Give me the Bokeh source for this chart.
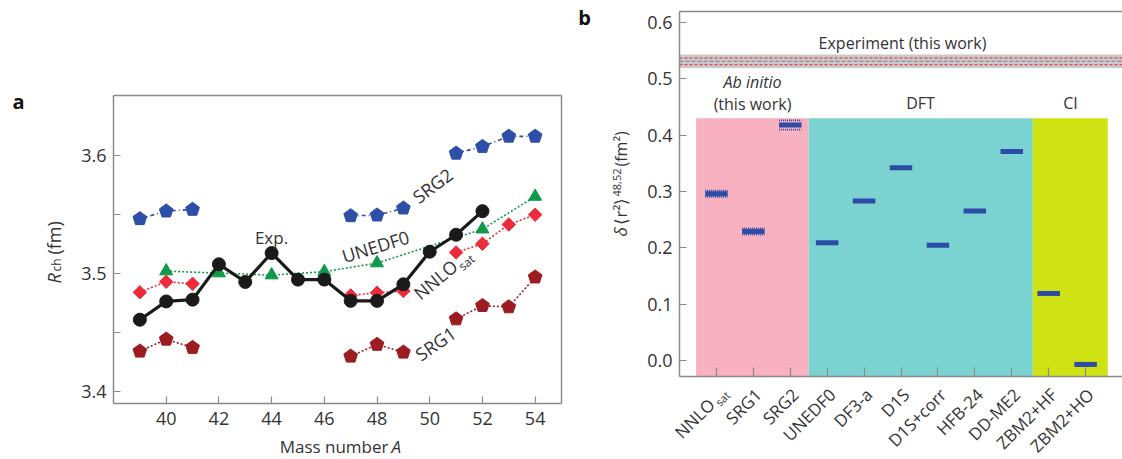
import math
from bokeh.plotting import figure
from bokeh.layouts import row
from bokeh.models import (Label, LinearAxis, FixedTicker, Range1d,
                          NumeralTickFormatter, CustomJSTickFormatter)
from bokeh.embed import file_html
from bokeh.resources import INLINE

nan = float("nan")

# ---------------- data: panel a ----------------
mass_A = [39, 40, 41, 42, 43, 44, 45, 46, 47, 48, 49, 50, 51, 52, 53, 54]
exp_A = [39, 40, 41, 42, 43, 44, 45, 46, 47, 48, 49, 50, 51, 52]
exp_rch = [3.461, 3.4765, 3.478, 3.508, 3.493, 3.5175, 3.495, 3.495, 3.477, 3.477,
           3.491, 3.5186, 3.533, 3.553]
srg2_rch = [3.5465, 3.553, 3.5544, nan, nan, nan, nan, nan, 3.549, 3.5496, 3.5555, nan,
            3.602, 3.6077, 3.6164, 3.6164]
srg1_rch = [3.4343, 3.4444, 3.4374, nan, nan, nan, nan, nan, 3.430, 3.440, 3.4334, nan,
            3.4616, 3.4729, 3.4718, 3.4971]
nnlo_rch = [3.4842, 3.4932, 3.4915, nan, nan, nan, nan, nan, 3.4816, 3.4839, 3.4853, nan,
            3.518, 3.5254, 3.5417, 3.550]
unedf_A = [40, 42, 44, 46, 48, 52, 54]
unedf_rch = [3.5022, 3.5005, 3.4988, 3.5017, 3.509, 3.5377, 3.5654]
a_xticks = [40, 42, 44, 46, 48, 50, 52, 54]
a_yticks = [3.4, 3.5, 3.6]
a_yminor = [3.45, 3.55]

# ---------------- data: panel b ----------------
methods = ["NNLO_sat", "SRG1", "SRG2", "UNEDF0", "DF3-a", "D1S", "D1S+corr", "HFB-24",
           "DD-ME2", "ZBM2+HF", "ZBM2+HO"]
dr2 = [0.296, 0.229, 0.418, 0.209, 0.283, 0.342, 0.2045, 0.2655, 0.371, 0.119, -0.007]
abinitio_err = [0.0053, 0.0053, 0.0083]
exp_dr2 = 0.531
exp_err_stat = 0.006
exp_err_tot = 0.012
group_names = ["Ab initio", "DFT", "CI"]
group_left = [-0.55, 2.5, 8.57]
group_right = [2.5, 8.57, 10.6]
group_top = 0.43
group_colors = ["#F7B1C1", "#7AD3D1", "#CFE314"]
b_yticks = [0.0, 0.1, 0.2, 0.3, 0.4, 0.5, 0.6]

FONT = "Open Sans"
TXT = "#333333"
AXC = "#8a8a8a"
BLUE = "#2D4FA8"
DRED = "#9C1C22"
RED = "#EC2C3B"
GREEN = "#10994A"
BAR = "#2C4CA5"

# ---------------- geometry (box of each panel inside its canvas) ----------------
WA, HA = 600, 459
A_BOX = (113, 95, 561, 403)          # left, top, right, bottom in canvas px
A_DATA = (38.0, 55.0, 3.39, 3.651)   # x0, x1, y0, y1 of the box

WB, HB = 522, 459
B_OFF = WA
B_BOX = (679 - B_OFF, 11, 522, 376)
B_DATA = (-1.0, 11.0, -0.0284, 0.6195)


def canvas_ranges(box, data, W, H):
    L, T, R, B = box
    x0, x1, y0, y1 = data
    kx = (R - L) / (x1 - x0)
    ky = (B - T) / (y1 - y0)
    xr = Range1d(x0 - L / kx, x1 + (W - R) / kx)
    yr = Range1d(y0 - (H - B) / ky, y1 + T / ky)
    return xr, yr, kx, ky


AXR, AYR, AKX, AKY = canvas_ranges(A_BOX, A_DATA, WA, HA)
BXR, BYR, BKX, BKY = canvas_ranges(B_BOX, B_DATA, WB, HB)


def conv_a(px, py):
    return AXR.start + px / AKX, AYR.end - py / AKY


def conv_b(px, py):
    return BXR.start + (px - B_OFF) / BKX, BYR.end - py / BKY


def lab(fig, conv, px, py, text, size, align="center", baseline="middle", angle=0.0,
        style="normal", color=TXT):
    x, y = conv(px, py)
    fig.add_layout(Label(x=x, y=y, text=text, text_font=FONT, text_font_size=f"{size}px",
                         text_align=align, text_baseline=baseline, angle=angle,
                         text_font_style=style, text_color=color))


def style_axis(axis, size):
    axis.axis_line_color = AXC
    axis.axis_line_width = 1.5
    axis.major_tick_line_color = AXC
    axis.major_tick_line_width = 1.2
    axis.minor_tick_line_color = AXC
    axis.minor_tick_line_width = 1.2
    axis.major_tick_in = 7
    axis.major_tick_out = 0
    axis.minor_tick_in = 7
    axis.minor_tick_out = 0
    axis.major_label_text_font = FONT
    axis.major_label_text_font_size = f"{size}px"
    axis.major_label_text_color = TXT


def frame_line(fig, side, loc, bounds):
    ax = LinearAxis(ticker=FixedTicker(ticks=[]), fixed_location=loc, bounds=bounds,
                    formatter=CustomJSTickFormatter(code="return '';"))
    ax.axis_line_color = AXC
    ax.axis_line_width = 1.5
    ax.major_tick_out = 0
    ax.major_tick_in = 0
    ax.major_label_standoff = 0
    fig.add_layout(ax, side)


def new_fig(W, H, xr, yr):
    f = figure(width=W, height=H, x_range=xr, y_range=yr, output_backend="svg",
               toolbar_location=None, min_border=0, min_border_left=0, min_border_right=0,
               min_border_top=0, min_border_bottom=0)
    f.grid.visible = False
    f.outline_line_color = None
    f.background_fill_color = "white"
    f.border_fill_color = "white"
    return f


# ================= panel a =================
pa = new_fig(WA, HA, AXR, AYR)
ax0, ax1, ay0, ay1 = A_DATA
pa.xaxis.ticker = FixedTicker(ticks=a_xticks)
pa.yaxis.ticker = FixedTicker(ticks=a_yticks, minor_ticks=a_yminor)
style_axis(pa.xaxis[0], 18)
style_axis(pa.yaxis[0], 18)
pa.xaxis.fixed_location = ay0
pa.xaxis.bounds = (ax0, ax1)
pa.yaxis.fixed_location = ax0
pa.yaxis.bounds = (ay0, ay1)
pa.xaxis.major_label_standoff = 8
pa.yaxis.major_label_standoff = 7
frame_line(pa, "above", ay1, (ax0, ax1))
frame_line(pa, "right", ax1, (ay0, ay1))


def clean(xs, ys):
    xx = [x for x, y in zip(xs, ys) if not math.isnan(y)]
    yy = [y for y in ys if not math.isnan(y)]
    return xx, yy


def pentagons(fig, xs, ys, color, r_px=7.2):
    # upright pentagon markers of fixed pixel size, centred on the data points
    xx, yy = clean(xs, ys)
    pxs, pys = [], []
    for x, y in zip(xx, yy):
        angs = [math.pi / 2 + k * 2 * math.pi / 5 for k in range(5)]
        pxs.append([x + r_px * math.cos(t) / AKX for t in angs])
        pys.append([y + r_px * math.sin(t) / AKY for t in angs])
    fig.patches(pxs, pys, fill_color=color, line_color=color, line_width=1)


# SRG2
pa.line(mass_A, srg2_rch, line_color=BLUE, line_width=1.6, line_dash="4 3 1 3")
pentagons(pa, mass_A, srg2_rch, BLUE)
# SRG1
pa.line(mass_A, srg1_rch, line_color=DRED, line_width=1.6, line_dash="2 2")
pentagons(pa, mass_A, srg1_rch, DRED)
# UNEDF0
pa.line(unedf_A, unedf_rch, line_color=GREEN, line_width=1.6, line_dash="2 2")
pa.scatter(unedf_A, unedf_rch, marker="triangle", size=13, fill_color=GREEN, line_color=GREEN)
# NNLOsat
pa.line(mass_A, nnlo_rch, line_color=RED, line_width=1.6, line_dash="2 2")
nx, ny = clean(mass_A, nnlo_rch)
pa.scatter(nx, ny, marker="square", angle=math.pi / 4, size=9.5, fill_color=RED,
           line_color=RED)
# Experiment
pa.line(exp_A, exp_rch, line_color="#1a1a1a", line_width=3.2)
pa.scatter(exp_A, exp_rch, marker="circle", size=13, fill_color="#1a1a1a", line_color="#1a1a1a")

# annotations panel a
lab(pa, conv_a, 18, 101, "a", 20, style="bold", color="#111111")
lab(pa, conv_a, 584, 17, "b", 20, style="bold", color="#111111")
lab(pa, conv_a, 271, 237, "Exp.", 17)
lab(pa, conv_a, 375, 246, "UNEDF0", 18, angle=math.radians(17))
lab(pa, conv_a, 432, 185, "SRG2", 18, angle=math.radians(37))
lab(pa, conv_a, 435, 279, "NNLO", 18, angle=math.radians(40))
lab(pa, conv_a, 466, 262, "sat", 12, angle=math.radians(40))
lab(pa, conv_a, 435, 343, "SRG1", 18, angle=math.radians(35))
lab(pa, conv_a, 388, 446, "Mass number", 17, align="right")
lab(pa, conv_a, 391, 446, "A", 17, align="left", style="italic")
lab(pa, conv_a, 53, 283, "R", 18, align="left", angle=math.pi / 2, style="italic")
lab(pa, conv_a, 56, 271, "ch", 12, align="left", angle=math.pi / 2)
lab(pa, conv_a, 53, 254, "(fm)", 18, align="left", angle=math.pi / 2)

# ================= panel b =================
pb = new_fig(WB, HB, BXR, BYR)
bx0, bx1, by0, by1 = B_DATA
pb.xaxis.ticker = FixedTicker(ticks=list(range(len(methods))))
pb.xaxis.formatter = CustomJSTickFormatter(code="return '';")
pb.yaxis.ticker = FixedTicker(ticks=b_yticks)
pb.yaxis.formatter = NumeralTickFormatter(format="0.0")
style_axis(pb.xaxis[0], 16)
style_axis(pb.yaxis[0], 18)
pb.xaxis.major_tick_in = 9
pb.yaxis.major_label_standoff = 7
pb.xaxis.major_label_standoff = 0

# group shading
pb.quad(left=group_left, right=group_right, bottom=[by0] * 3, top=[group_top] * 3,
        fill_color=group_colors, line_color=None)

# experiment band
pb.quad(left=[bx0], right=[bx1], bottom=[exp_dr2 - exp_err_tot],
        top=[exp_dr2 + exp_err_tot], fill_color="#C9C9C9", line_color=None)
for yy in (exp_dr2 + exp_err_stat, exp_dr2 - exp_err_stat):
    pb.line([bx0, bx1], [yy, yy], line_color="#EE2030", line_width=1.1, line_dash="3 2")
pb.line([bx0, bx1], [exp_dr2, exp_dr2], line_color="#8f8f8f", line_width=1.1,
        line_dash="4 2")

# ab initio uncertainty (dotted)
xi = list(range(len(methods)))
half = 0.305
for i, e in enumerate(abinitio_err):
    for s in (1, -1):
        pb.line([xi[i] - half, xi[i] + half], [dr2[i] + s * e, dr2[i] + s * e],
                line_color=BAR, line_width=1.8, line_dash="1 1")
# bars
pb.segment(x0=[x - half for x in xi], x1=[x + half for x in xi], y0=dr2, y1=dr2,
           line_color=BAR, line_width=5)

pb.xaxis.fixed_location = by0
pb.xaxis.bounds = (bx0, bx1)
pb.yaxis.fixed_location = bx0
pb.yaxis.bounds = (by0, by1)
frame_line(pb, "above", by1, (bx0, bx1))

# annotations panel b
lab(pb, conv_b, 902, 42, "Experiment (this work)", 16)
lab(pb, conv_b, 752, 81, "Ab initio", 16, style="italic")
lab(pb, conv_b, 752, 103, "(this work)", 16)
lab(pb, conv_b, 920, 102, "DFT", 16)
lab(pb, conv_b, 1070, 102, "CI", 16)

# y label
lab(pb, conv_b, 620, 236, "δ", 17, align="left", angle=math.pi / 2, style="italic")
lab(pb, conv_b, 620, 224, "⟨r²⟩", 17, align="left", angle=math.pi / 2)
lab(pb, conv_b, 616, 196, "48,52", 11, align="left", angle=math.pi / 2)
lab(pb, conv_b, 620, 166, "(fm²)", 16, align="left", angle=math.pi / 2)

# x tick labels (rotated)
for i, name in enumerate(methods):
    tx = B_OFF + B_BOX[0] + (xi[i] - bx0) * BKX
    if name == "NNLO_sat":
        lab(pb, conv_b, tx - 5, 401, "NNLO", 17, align="right", angle=math.pi / 4)
        lab(pb, conv_b, tx + 6, 398, "sat", 11, angle=math.pi / 4)
    else:
        lab(pb, conv_b, tx + 5, 391, name, 17, align="right", angle=math.pi / 4)

layout = row(pa, pb)
open("out.html", "w").write(file_html(layout, INLINE))
